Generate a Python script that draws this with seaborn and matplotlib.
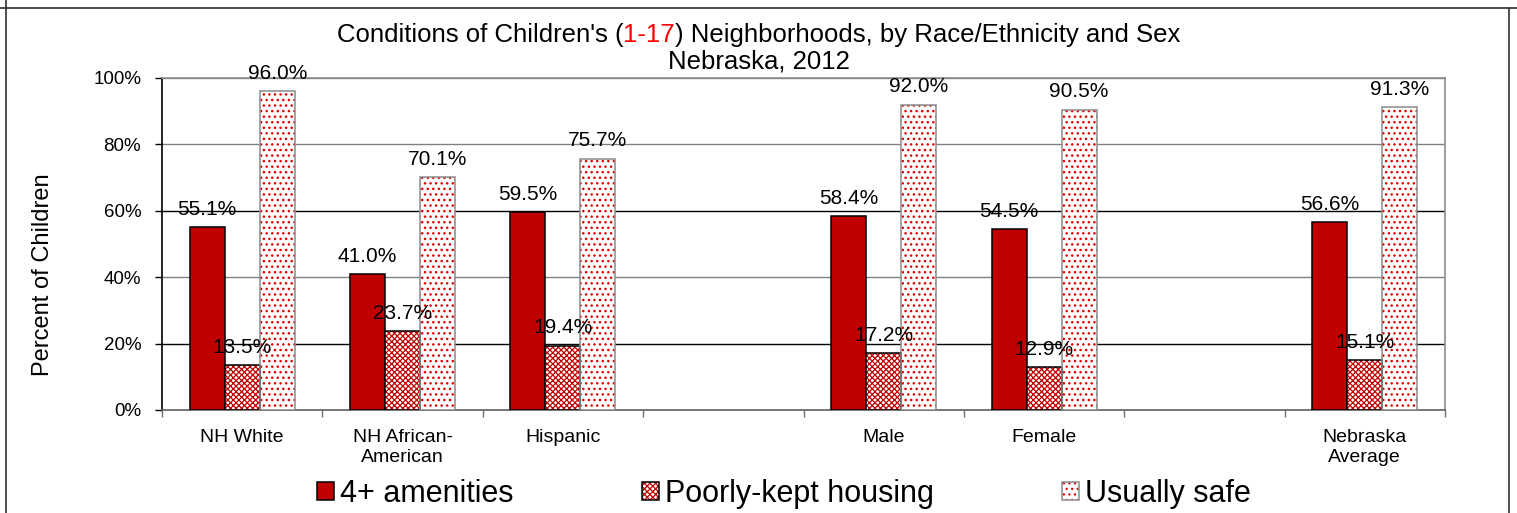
import numpy as np
import pandas as pd
import matplotlib
matplotlib.use("Agg")
import matplotlib.pyplot as plt
import seaborn as sns
from matplotlib.patches import Rectangle, Patch
from matplotlib.lines import Line2D
from matplotlib.legend_handler import HandlerTuple

# ---------------- data ----------------
categories = ["NH White", "NH African-\nAmerican", "Hispanic", "", "Male", "Female", " ", "Nebraska\nAverage"]
series = ["4+ amenities", "Poorly-kept housing", "Usually safe"]
amenities = [55.1, 41.0, 59.5, None, 58.4, 54.5, None, 56.6]
poorly_kept = [13.5, 23.7, 19.4, None, 17.2, 12.9, None, 15.1]
usually_safe = [96.0, 70.1, 75.7, None, 92.0, 90.5, None, 91.3]
yticks = [0, 20, 40, 60, 80, 100]
title_parts = ["Conditions of Children's (", "1-17", ") Neighborhoods, by Race/Ethnicity and Sex"]
title_line2 = "Nebraska, 2012"

rows = []
for s, vals in zip(series, [amenities, poorly_kept, usually_safe]):
    for c, v in zip(categories, vals):
        if v is not None:
            rows.append({"category": c, "series": s, "value": v})
df = pd.DataFrame(rows)

# ---------------- style ----------------
sns.set_theme(style="white")
plt.rcParams["font.family"] = ["Liberation Sans", "DejaVu Sans"]
plt.rcParams["text.color"] = "black"
plt.rcParams["axes.labelcolor"] = "black"
plt.rcParams["xtick.color"] = "black"
plt.rcParams["ytick.color"] = "black"
plt.rcParams["hatch.linewidth"] = 0.9

DARK_RED = "#C00000"
DOT_RED = "#E00000"

fig, ax = plt.subplots(figsize=(15.17, 5.13), dpi=100)
fig.subplots_adjust(left=162 / 1517, right=1445 / 1517, top=1 - 78 / 513, bottom=1 - 410 / 513)

sns.barplot(data=df, x="category", y="value", hue="series", order=categories,
            hue_order=series, width=0.655, gap=0, palette=[DARK_RED, "white", "white"],
            saturation=1, errorbar=None, legend=False, ax=ax, zorder=3)

styles = [
    dict(face=DARK_RED, hatch=None, hatch_col=None, edge="black", hlw=None),
    dict(face="white", hatch="xxxxxx", hatch_col=DARK_RED, edge="black", hlw=0.9),
    dict(face="white", hatch="...", hatch_col=DOT_RED, edge="#8c8c8c", hlw=1.0),
]


def set_hlw(p, w):
    if w is None:
        return
    try:
        p.set_hatch_linewidth(w)
    except Exception:
        pass


for cont, st in zip(ax.containers, styles):
    for p in cont.patches:
        p.set_facecolor(st["face"])
        if st["hatch"]:
            p.set_hatch(st["hatch"])
            p.set_edgecolor(st["hatch_col"])
            p.set_linewidth(0)
            set_hlw(p, st["hlw"])
            ax.add_patch(Rectangle(p.get_xy(), p.get_width(), p.get_height(), fill=False,
                                   edgecolor=st["edge"], lw=1.1, zorder=3.5))
        else:
            p.set_edgecolor(st["edge"])
            p.set_linewidth(1.1)
    ax.bar_label(cont, labels=[f"{v:.1f}%" for v in cont.datavalues], padding=6,
                 fontsize=15, zorder=6)

# ---------------- axes ----------------
ax.set_ylim(0, 100)
ax.set_xlim(-0.5, len(categories) - 0.5)
ax.set_yticks(yticks)
ax.set_yticklabels([f"{t}%" for t in yticks], fontsize=13.5)
ax.tick_params(axis="y", which="major", left=True, length=5, width=1, color="black", pad=10)
ax.set_xticks(range(len(categories)))
ax.set_xticklabels(categories, fontsize=14, linespacing=1.2)
ax.tick_params(axis="x", which="major", length=0, pad=14)
ax.set_xticks(np.arange(-0.5, len(categories), 1.0), minor=True)
ax.tick_params(axis="x", which="minor", bottom=True, length=5, width=1, color="#707070")
ax.set_xlabel("")
ax.set_ylabel("Percent of Children", fontsize=17)
ax.yaxis.set_label_coords(-0.084, 0.407)

ax.set_axisbelow(True)
ax.yaxis.grid(True, lw=1.0)
grid_colors = {0: "none", 20: "black", 40: "#808080", 60: "black", 80: "#808080", 100: "#808080"}
for t, gl in zip(yticks, ax.get_ygridlines()):
    gl.set_color(grid_colors[t])

for side, col in [("left", "black"), ("bottom", "#606060"), ("right", "#8c8c8c"), ("top", "#8c8c8c")]:
    ax.spines[side].set_visible(True)
    ax.spines[side].set_color(col)
    ax.spines[side].set_linewidth(1.2)

# ---------------- legend ----------------
handles = []
for st in styles:
    if st["hatch"]:
        fillp = Patch(facecolor=st["face"], edgecolor=st["hatch_col"], hatch=st["hatch"], lw=0)
        set_hlw(fillp, st["hlw"])
        outp = Patch(facecolor="none", edgecolor=st["edge"], lw=1.1)
        handles.append((fillp, outp))
    else:
        handles.append(Patch(facecolor=st["face"], edgecolor=st["edge"], lw=1.1))
fig.legend(handles, series, loc="center", bbox_to_anchor=(784 / 1517, 1 - 494 / 513),
           ncol=3, frameon=False, fontsize=22, handlelength=0.55, handleheight=0.55,
           handletextpad=0.2, columnspacing=4.2, borderpad=0,
           handler_map={tuple: HandlerTuple(ndivide=1, pad=0)})

# ---------------- title (multicolour first line) ----------------
y1 = 1 - 42 / 513
pieces = []
for txt, col in zip(title_parts, ["black", "red", "black"]):
    pieces.append(fig.text(0, y1, txt, fontsize=18.5, color=col, ha="left", va="baseline"))
fig.canvas.draw()
r = fig.canvas.get_renderer()
widths = [t.get_window_extent(r).width for t in pieces]
total = sum(widths)
x = (1517 / 2 - total / 2)
for t, w in zip(pieces, widths):
    t.set_x(x / 1517)
    x += w
fig.text(0.5, 1 - 69 / 513, title_line2, fontsize=18.5, ha="center", va="baseline")

# ---------------- cell border lines ----------------
fig.add_artist(Line2D([0, 1], [1 - 7.5 / 513] * 2, transform=fig.transFigure, color="#303030", lw=1.2))
fig.add_artist(Line2D([5.5 / 1517] * 2, [0, 1], transform=fig.transFigure, color="#303030", lw=1.2))
fig.add_artist(Line2D([1508.5 / 1517] * 2, [0, 1 - 7.5 / 513], transform=fig.transFigure, color="#303030", lw=1.2))

fig.savefig("out.png", dpi=100)
